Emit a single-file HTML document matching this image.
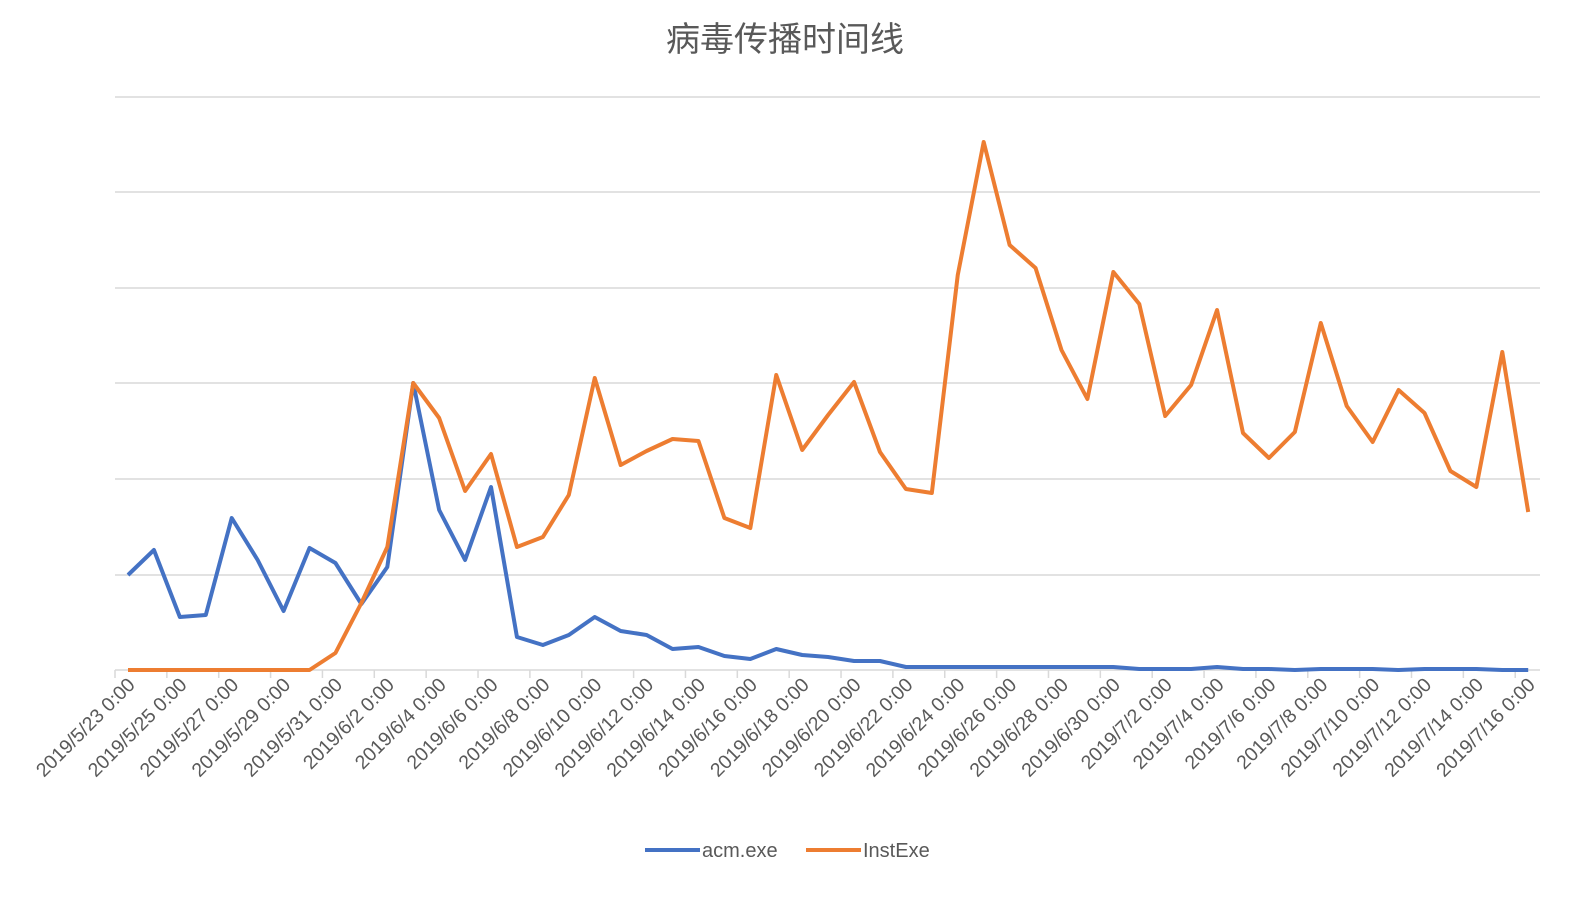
<!DOCTYPE html>
<html><head><meta charset="utf-8"><style>body{margin:0;background:#fff}</style></head>
<body>
<svg width="1592" height="892" xmlns="http://www.w3.org/2000/svg" font-family="'Liberation Sans','Noto Sans CJK SC',sans-serif">
<text x="785" y="51" text-anchor="middle" font-size="34" fill="#595959">病毒传播时间线</text>
<g stroke="#d9d9d9" stroke-width="1.5">
<line x1="115" y1="97" x2="1540" y2="97"/><line x1="115" y1="192" x2="1540" y2="192"/><line x1="115" y1="288" x2="1540" y2="288"/><line x1="115" y1="383" x2="1540" y2="383"/><line x1="115" y1="479" x2="1540" y2="479"/><line x1="115" y1="575" x2="1540" y2="575"/><line x1="115" y1="670" x2="1540" y2="670"/>
</g>
<g id="ticks" stroke="#d9d9d9" stroke-width="1.5"></g>
<g id="labels" font-size="19.5" fill="#595959"></g>
<polyline id="b" fill="none" stroke="#4472c4" stroke-width="4" stroke-linejoin="round"/>
<polyline id="o" fill="none" stroke="#ed7d31" stroke-width="4" stroke-linejoin="round"/>
<line x1="645" y1="850" x2="700" y2="850" stroke="#4472c4" stroke-width="4"/>
<text x="702" y="857" font-size="20" fill="#595959">acm.exe</text>
<line x1="806" y1="850" x2="861" y2="850" stroke="#ed7d31" stroke-width="4"/>
<text x="863" y="857" font-size="20" fill="#595959">InstExe</text>
</svg>
<script>
var B=[575,550,617,615,518,560,611,548,563,604,567,383,510,560,487,637,645,635,617,631,635,649,647,656,659,649,655,657,661,661,667,667,667,667,667,667,667,667,667,669,669,669,667,669,669,670,669,669,669,670,669,669,669,670,670];
var O=[670,670,670,670,670,670,670,670,653,603,547,383,418,491,454,547,537,495,378,465,451,439,441,518,528,375,450,415,382,452,489,493,275,142,245,268,350,399,272,304,416,385,310,433,458,432,323,406,442,390,413,471,487,352,512];
function X(i){return 128+i*25.93}
document.getElementById('b').setAttribute('points',B.map((y,i)=>X(i)+','+y).join(' '));
document.getElementById('o').setAttribute('points',O.map((y,i)=>X(i)+','+y).join(' '));
var t='',l='';
for(var i=0;i<55;i+=2){
 var x=115+i*25.93;
 t+='<line x1="'+x+'" y1="670" x2="'+x+'" y2="678"/>';
 var dd=new Date(2019,4,23+i);
 var s='2019/'+(dd.getMonth()+1)+'/'+dd.getDate()+' 0:00';
 var cx=X(i)+8;
 l+='<text x="'+cx+'" y="686" text-anchor="end" transform="rotate(-45 '+cx+' 686)">'+s+'</text>';
}
document.getElementById('ticks').innerHTML=t;
document.getElementById('labels').innerHTML=l;
</script>
</body></html>
